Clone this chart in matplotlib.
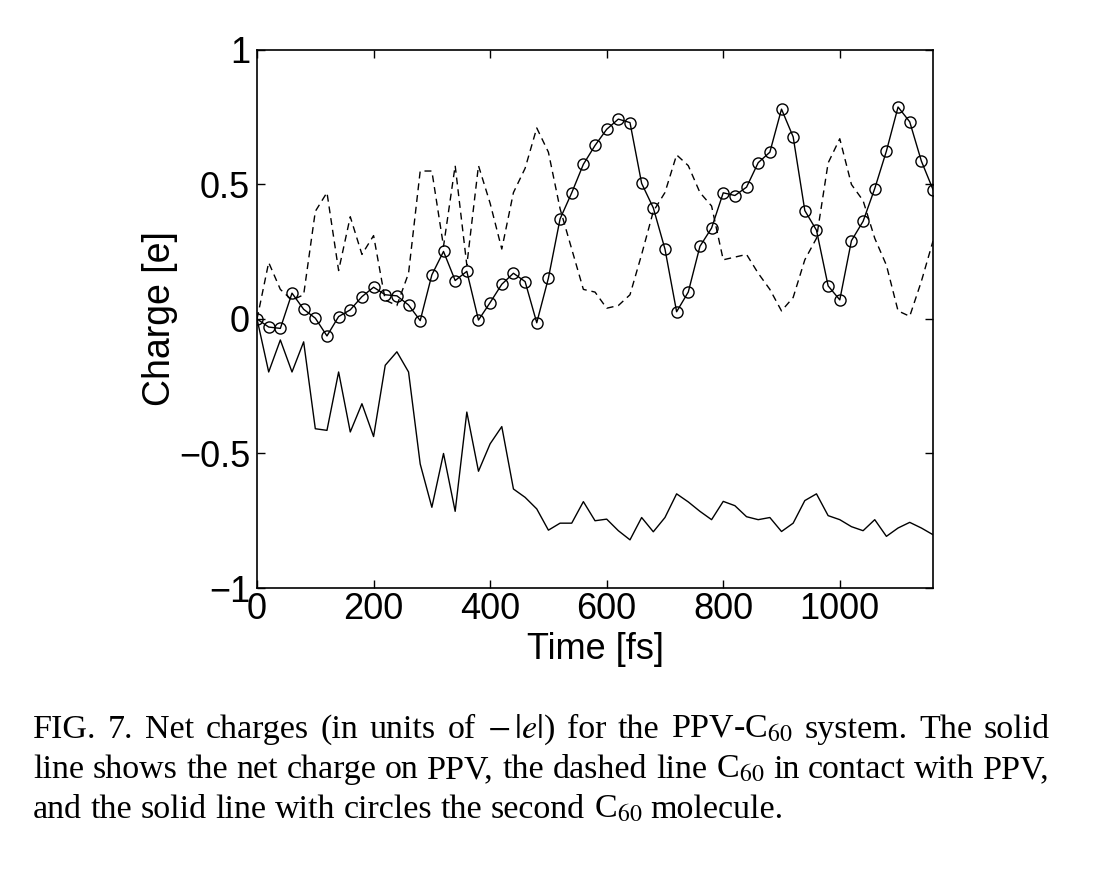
import numpy as np
import matplotlib
matplotlib.use("Agg")
import matplotlib.pyplot as plt

# time axis in fs, one sample every 20 fs
time_fs = np.arange(0, 1180, 20)

# net charge on PPV (solid line)
q_ppv = [0.0, -0.197, -0.078, -0.197, -0.085, -0.408, -0.414, -0.197, -0.42, -0.315,
         -0.437, -0.172, -0.122, -0.197, -0.539, -0.70, -0.50, -0.715, -0.346, -0.566,
         -0.464, -0.40, -0.632, -0.663, -0.706, -0.785, -0.759, -0.759, -0.679, -0.75,
         -0.744, -0.787, -0.821, -0.738, -0.791, -0.738, -0.65, -0.68, -0.715, -0.746,
         -0.678, -0.694, -0.735, -0.746, -0.738, -0.79, -0.759, -0.675, -0.65, -0.731,
         -0.746, -0.772, -0.787, -0.746, -0.808, -0.777, -0.756, -0.777, -0.802]

# C60 in contact with PPV (dashed line)
q_c60_contact = [0.0, 0.21, 0.11, 0.07, 0.09, 0.40, 0.47, 0.18, 0.38, 0.24,
                 0.31, 0.07, 0.05, 0.17, 0.55, 0.55, 0.27, 0.57, 0.20, 0.57,
                 0.43, 0.26, 0.47, 0.56, 0.71, 0.62, 0.41, 0.26, 0.11, 0.10,
                 0.04, 0.05, 0.09, 0.24, 0.40, 0.47, 0.61, 0.57, 0.47, 0.42,
                 0.22, 0.23, 0.24, 0.17, 0.11, 0.03, 0.08, 0.22, 0.30, 0.58,
                 0.67, 0.50, 0.44, 0.30, 0.20, 0.03, 0.01, 0.14, 0.29]

# second C60 molecule (solid line with circles)
q_c60_second = [0.0, -0.03, -0.035, 0.096, 0.036, 0.003, -0.063, 0.009, 0.034, 0.083,
                0.118, 0.09, 0.086, 0.052, -0.006, 0.164, 0.251, 0.143, 0.177, -0.004,
                0.061, 0.129, 0.17, 0.139, -0.014, 0.152, 0.372, 0.469, 0.575, 0.645,
                0.705, 0.743, 0.73, 0.504, 0.413, 0.26, 0.027, 0.10, 0.27, 0.338,
                0.469, 0.459, 0.49, 0.581, 0.62, 0.78, 0.677, 0.403, 0.33, 0.123,
                0.071, 0.291, 0.363, 0.485, 0.624, 0.788, 0.733, 0.587, 0.481]

x_ticks = [0, 200, 400, 600, 800, 1000]
y_ticks = [-1, -0.5, 0, 0.5, 1]
y_ticklabels = ["\u22121", "\u22120.5", "0", "0.5", "1"]

caption_lines = [
    ["FIG.", "7.", "Net", "charges", "(in", "units", "of", r"$-\,|e|$)", "for", "the",
     r"PPV-C$_{60}$", "system.", "The", "solid"],
    ["line", "shows", "the", "net", "charge", "on", "PPV,", "the", "dashed", "line",
     r"C$_{60}$", "in", "contact", "with", "PPV,"],
    ["and", "the", "solid", "line", "with", "circles", "the", "second", r"C$_{60}$",
     "molecule."],
]

plt.rcParams['mathtext.fontset'] = 'stix'
plt.rcParams['axes.unicode_minus'] = True

fig = plt.figure(figsize=(11.06, 8.75), dpi=100)
ax = fig.add_axes([0.2324, 0.328, 0.6112, 0.6149])

ax.plot(time_fs, q_ppv, color='black', lw=1.0)
ax.plot(time_fs, q_c60_contact, color='black', lw=1.0, dashes=(5, 3.5))
ax.plot(time_fs, q_c60_second, color='black', lw=1.0, marker='o', ms=8,
        mfc='none', mec='black', mew=1.0)

ax.set_xlim(0, 1160)
ax.set_ylim(-1, 1)
ax.set_xticks(x_ticks)
ax.set_xticklabels([str(v) for v in x_ticks])
ax.set_yticks(y_ticks)
ax.set_yticklabels(y_ticklabels)

axfont = 'Liberation Sans'
for lab in ax.get_xticklabels() + ax.get_yticklabels():
    lab.set_fontfamily(axfont)
    lab.set_fontsize(26)
ax.tick_params(direction='in', length=6, width=1, top=True, right=True)
ax.tick_params(axis='x', pad=3)
ax.tick_params(axis='y', pad=5)
for sp in ax.spines.values():
    sp.set_linewidth(1.2)

ax.set_xlabel("Time [fs]", fontfamily=axfont, fontsize=26)
ax.set_ylabel("Charge [e]", fontfamily=axfont, fontsize=27)
ax.xaxis.set_label_coords(0.5, -0.082)
ax.xaxis.label.set_va('top')
ax.yaxis.set_label_coords(-0.117, 0.5)

# caption, justified like the journal text
cap_size = 24.5
cap_font = 'Liberation Serif'
left_px, right_px = 33, 1050
baselines_px = [738, 778, 818]
W, H = fig.bbox.width, fig.bbox.height
renderer = fig.canvas.get_renderer()
space_px = 0.25 * cap_size * fig.dpi / 72
for i, words in enumerate(caption_lines):
    y = 1 - baselines_px[i] / H
    texts = [fig.text(0, y, w, fontsize=cap_size, fontfamily=cap_font,
                      va='baseline', ha='left') for w in words]
    widths = [t.get_window_extent(renderer).width for t in texts]
    if i < len(caption_lines) - 1:
        gap = (right_px - left_px - sum(widths)) / (len(words) - 1)
    else:
        gap = space_px
    x = left_px
    for t, w in zip(texts, widths):
        t.set_x(x / W)
        x += w + gap

fig.savefig("out.png", dpi=100)
